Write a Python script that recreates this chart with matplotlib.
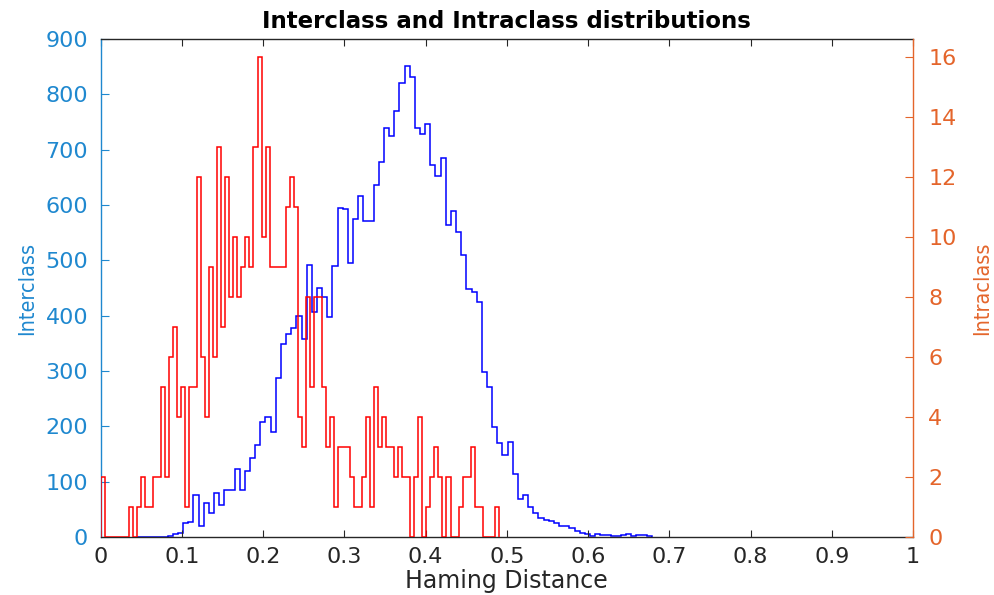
import numpy as np
import matplotlib
matplotlib.use("Agg")
import matplotlib.pyplot as plt
from matplotlib import font_manager

# bin widths (red ~0.00495, blue ~0.00634)
red_width = 0.00495
blue_width = 0.00634
blue_first_bin = 7

# intraclass counts, bins starting at 0
red_counts = [2, 0, 0, 0, 0, 0, 0, 1, 0, 1,
              2, 1, 1, 2, 2, 5, 2, 6, 7, 4,
              5, 1, 5, 5, 12, 6, 4, 9, 6, 13,
              7, 12, 8, 10, 8, 9, 10, 9, 13, 16,
              10, 13, 9, 9, 9, 9, 11, 12, 11, 4,
              3, 8, 5, 8, 8, 5, 3, 4, 1, 3,
              3, 3, 2, 1, 1, 2, 4, 1, 5, 3,
              4, 3, 3, 2, 3, 2, 2, 0, 2, 4,
              0, 1, 2, 3, 2, 0, 2, 0, 0, 1,
              2, 2, 3, 1, 1, 0, 0, 0, 1]

# interclass counts, bins starting at blue_first_bin
blue_counts = [0, 0, 0, 0, 0, 0,
               2, 5, 8, 26, 27, 75, 20,
               62, 43, 80, 58, 85, 85, 123, 85, 119, 142,
               166, 208, 216, 190, 287, 349, 367, 377, 399, 357,
               492, 407, 450, 433, 398, 489, 595, 592, 496, 575,
               617, 571, 571, 636, 677, 740, 725, 770, 820, 852,
               832, 740, 728, 746, 672, 653, 684, 563, 589, 552,
               510, 448, 442, 425, 299, 271, 199, 169, 148, 171,
               114, 69, 75, 54, 43, 34, 31, 29, 26, 20,
               19, 16, 10, 7, 5, 2, 5, 4, 4, 2,
               2, 3, 5, 2, 4, 4, 1]

x_ticks = np.arange(0, 1.01, 0.1)
x_ticklabels = ["0", "0.1", "0.2", "0.3", "0.4", "0.5", "0.6", "0.7", "0.8", "0.9", "1"]
left_ticks = np.arange(0, 901, 100)
right_ticks = np.arange(0, 17, 2)

red_edges = np.arange(len(red_counts) + 1) * red_width
blue_edges = (np.arange(len(blue_counts) + 1) + blue_first_bin) * blue_width

left_color = "#1f88cf"
right_color = "#e4652b"
axis_color = "#262626"

names = {f.name for f in font_manager.fontManager.ttflist}
if "Liberation Sans Narrow" in names:
    ylab_font = dict(family="Liberation Sans Narrow", fontsize=19)
else:
    ylab_font = dict(family="DejaVu Sans", fontsize=15.5, fontstretch="condensed")

plt.rcParams["font.family"] = ["DejaVu Sans"]

fig = plt.figure(figsize=(9.95, 5.95), dpi=100)
ax = fig.add_axes([0.1012, 0.0975, 0.8164, 0.837])
ax2 = ax.twinx()

ax.stairs(blue_counts, blue_edges, baseline=0, color="#0000ff", lw=1.1)
ax2.stairs(red_counts, red_edges, baseline=0, color="#ff0000", lw=1.1)

ax.set_xlim(0, 1)
ax.set_ylim(0, 900)
ax2.set_ylim(0, 16.6)

ax.set_xticks(x_ticks)
ax.set_xticklabels(x_ticklabels)
ax.set_yticks(left_ticks)
ax2.set_yticks(right_ticks)

ax.tick_params(axis="x", direction="in", length=5, width=0.8, top=True,
               labelsize=16, pad=7, colors=axis_color)
ax.tick_params(axis="y", direction="in", length=6, width=0.8,
               labelsize=16, pad=9, colors=left_color)
ax2.tick_params(axis="y", direction="in", length=6, width=0.8,
                labelsize=16, pad=11, colors=right_color)

for s in ["top", "bottom"]:
    ax.spines[s].set_color(axis_color)
    ax2.spines[s].set_visible(False)
ax.spines["left"].set_color(left_color)
ax.spines["right"].set_visible(False)
ax2.spines["left"].set_visible(False)
ax2.spines["right"].set_color(right_color)
for a in (ax, ax2):
    for s in a.spines.values():
        s.set_linewidth(1.0)

ax.set_title("Interclass and Intraclass distributions", fontsize=16.5,
             fontweight="bold", pad=8, color="black")
ax.set_xlabel("Haming Distance", fontsize=17, labelpad=2, color=axis_color)
ax.set_ylabel("Interclass", color=left_color, labelpad=6, **ylab_font)
ax2.set_ylabel("Intraclass", color=right_color, labelpad=11, **ylab_font)

fig.savefig("out.png", dpi=100)
